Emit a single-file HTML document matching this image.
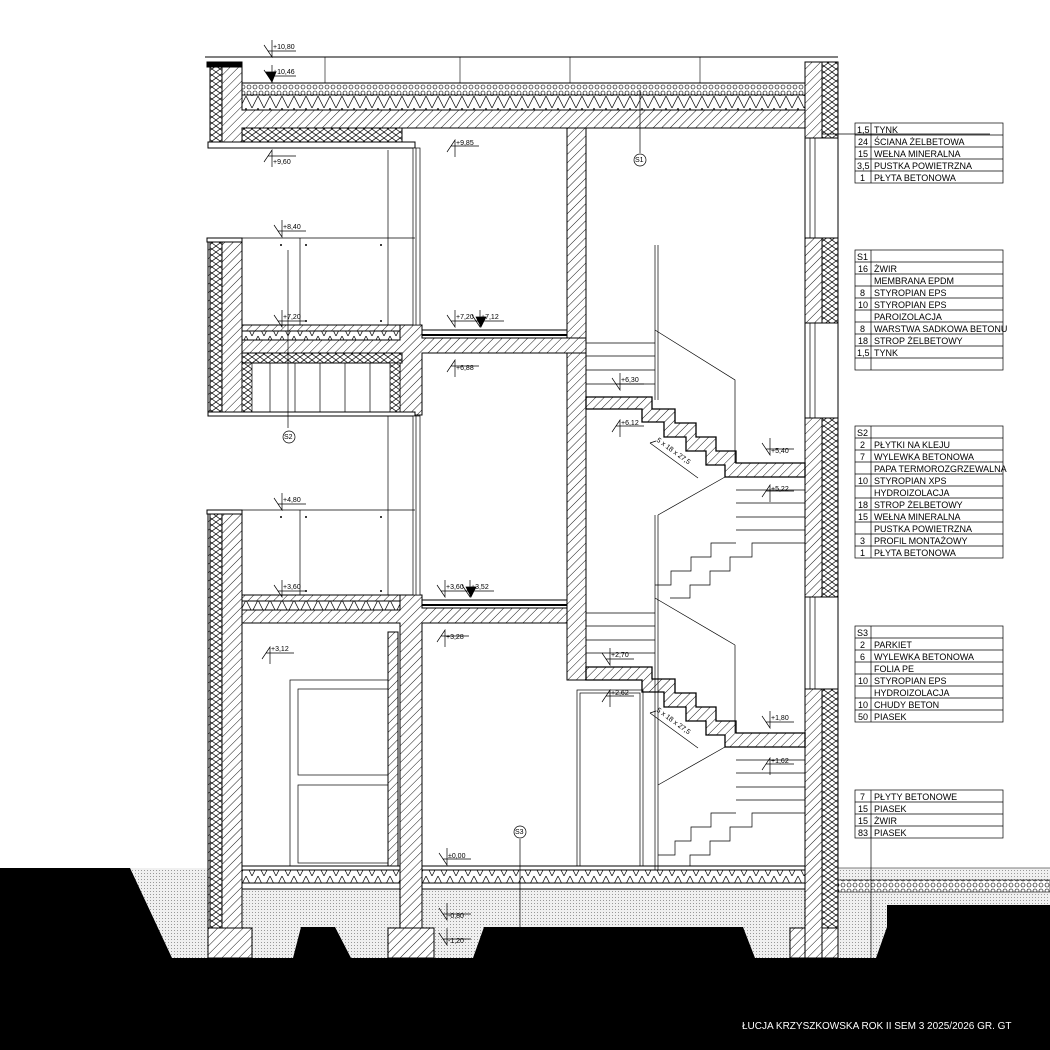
<!DOCTYPE html>
<html><head><meta charset="utf-8"><style>
html,body{margin:0;padding:0;background:#fff}
svg{display:block}
text{font-family:"Liberation Sans",sans-serif;font-size:7px;fill:#000}
.t text{font-size:9px}
</style></head><body>
<svg width="1050" height="1050" viewBox="0 0 1050 1050" xmlns="http://www.w3.org/2000/svg">
<defs>
<pattern id="h" width="6" height="6" patternUnits="userSpaceOnUse" patternTransform="rotate(45)"><rect width="6" height="6" fill="#fff"/><line x1="0" y1="0" x2="0" y2="6" stroke="#000" stroke-width="0.9"/></pattern>
<pattern id="w" width="8" height="6" patternUnits="userSpaceOnUse"><rect width="8" height="6" fill="#fff"/><path d="M0,0 L8,6 M8,0 L0,6" stroke="#000" stroke-width="0.7"/></pattern>
<pattern id="z" width="12" height="12" patternUnits="userSpaceOnUse"><rect width="12" height="12" fill="#fff"/><path d="M0,12 L6,0 L12,12" stroke="#000" stroke-width="0.7" fill="none"/></pattern>
<pattern id="g" width="6" height="6" patternUnits="userSpaceOnUse"><rect width="6" height="6" fill="#fff"/><circle cx="3" cy="3" r="2" stroke="#000" stroke-width="0.6" fill="none"/></pattern>
<pattern id="d" width="3" height="3" patternUnits="userSpaceOnUse"><rect width="3" height="3" fill="#f0f0f0"/><rect width="1" height="1" fill="#999"/></pattern>
</defs>
<g stroke="#000" stroke-width="1" fill="none">
<rect x="0" y="868" width="1050" height="182" fill="#000" stroke="none"/>
<polygon points="130,868 1050,868 1050,905 887,905 887,927 876,958 755,958 743,927 484,927 473,958 351,958 335,927 301,927 293,958 172,958" fill="url(#d)" stroke="none"/>
<rect x="838" y="880" width="212" height="12" fill="url(#g)" stroke-width="0.6"/>
<line x1="838" y1="868" x2="1050" y2="868" stroke-width="0.6"/>
<rect x="242" y="866" width="563" height="4" fill="#fff"/>
<rect x="242" y="870" width="563" height="13" fill="url(#z)"/>
<rect x="242" y="883" width="563" height="6" fill="#fff"/>
<rect x="208" y="928" width="44" height="30" fill="url(#h)"/>
<rect x="388" y="928" width="46" height="30" fill="url(#h)"/>
<rect x="790" y="928" width="48" height="30" fill="url(#h)"/>
<line x1="205" y1="57" x2="838" y2="57"/>
<line x1="325" y1="57" x2="325" y2="83" stroke-width="0.6"/><line x1="460" y1="57" x2="460" y2="83" stroke-width="0.6"/><line x1="570" y1="57" x2="570" y2="83" stroke-width="0.6"/><line x1="700" y1="57" x2="700" y2="83" stroke-width="0.6"/>
<rect x="242" y="83" width="563" height="12" fill="url(#g)"/>
<rect x="242" y="95" width="563" height="15" fill="url(#z)"/>
<polygon points="222,62 242,62 242,110 838,110 838,128 242,128 242,148 222,148" fill="url(#h)"/>
<rect x="210" y="62" width="12" height="86" fill="url(#w)"/>
<rect x="207" y="62" width="35" height="5" fill="#000"/>
<rect x="242" y="128" width="160" height="14" fill="url(#w)"/>
<rect x="208" y="142" width="207" height="6" fill="#fff"/>
<rect x="805" y="62" width="17" height="896" fill="url(#h)"/>
<rect x="822" y="62" width="16" height="866" fill="url(#w)"/>
<g fill="#fff"><rect x="805" y="138" width="33" height="100"/><rect x="805" y="323" width="33" height="95"/><rect x="805" y="597" width="33" height="92"/></g>
<g stroke-width="0.7"><line x1="810" y1="138" x2="810" y2="238"/><line x1="815" y1="138" x2="815" y2="238"/><line x1="810" y1="323" x2="810" y2="418"/><line x1="815" y1="323" x2="815" y2="418"/><line x1="810" y1="597" x2="810" y2="689"/><line x1="815" y1="597" x2="815" y2="689"/></g>
<rect x="567" y="128" width="19" height="552" fill="url(#h)"/>
<polygon points="586,397 652,397 652,409 675,409 675,423 696,423 696,437 716,437 716,451 736,451 736,463 805,463 805,477 725,477 725,465 706,465 706,451 686,451 686,437 664,437 664,422 642,422 642,409 586,409" fill="url(#h)" stroke-width="1.3"/>
<polygon points="586,667 652,667 652,679 675,679 675,693 696,693 696,707 716,707 716,721 736,721 736,733 805,733 805,747 725,747 725,735 706,735 706,721 686,721 686,707 664,707 664,692 642,692 642,680 586,680" fill="url(#h)" stroke-width="1.3"/>
<g stroke-width="0.7">
<line x1="586" y1="343" x2="655" y2="343"/><line x1="586" y1="356" x2="655" y2="356"/><line x1="586" y1="370" x2="655" y2="370"/><line x1="586" y1="384" x2="655" y2="384"/>
<line x1="655" y1="245" x2="655" y2="400"/><line x1="658" y1="245" x2="658" y2="400"/>
<polyline points="655,330 735,380 735,463"/>
<line x1="736" y1="490" x2="805" y2="490"/><line x1="736" y1="503" x2="805" y2="503"/><line x1="736" y1="517" x2="805" y2="517"/><line x1="736" y1="530" x2="805" y2="530"/>
<polyline points="736,543 711,543 711,557 691,557 691,571 671,571 671,585 655,585"/>
<polyline points="805,543 752,543 752,557 730,557 730,571 710,571 710,585 690,585 690,598 670,598"/>
<line x1="655" y1="515" x2="655" y2="870"/><line x1="658" y1="515" x2="658" y2="870"/>
<line x1="658" y1="515" x2="725" y2="477"/>
<line x1="586" y1="613" x2="655" y2="613"/><line x1="586" y1="626" x2="655" y2="626"/><line x1="586" y1="640" x2="655" y2="640"/><line x1="586" y1="653" x2="655" y2="653"/>
<line x1="655" y1="598" x2="735" y2="645"/><line x1="735" y1="645" x2="735" y2="733"/>
<line x1="736" y1="760" x2="805" y2="760"/><line x1="736" y1="773" x2="805" y2="773"/><line x1="736" y1="787" x2="805" y2="787"/><line x1="736" y1="800" x2="805" y2="800"/>
<polyline points="736,813 711,813 711,827 691,827 691,841 675,841 675,855 658,855"/>
<polyline points="805,813 752,813 752,827 730,827 730,841 710,841 710,855 690,855 690,866"/>
<line x1="658" y1="785" x2="725" y2="747"/>
<rect x="577" y="690" width="66" height="176"/><rect x="580" y="693" width="60" height="173"/>
</g>
<rect x="208" y="238" width="34" height="177" fill="url(#h)"/>
<rect x="210" y="242" width="12" height="173" fill="url(#w)"/>
<rect x="207" y="238" width="35" height="4" fill="#fff"/>
<rect x="242" y="325" width="158" height="6" fill="url(#h)"/>
<rect x="242" y="331" width="158" height="9" fill="url(#z)"/>
<polygon points="242,340 400,340 400,325 422,325 422,338 586,338 586,353 422,353 422,415 400,415 400,353 242,353" fill="url(#h)"/>
<rect x="242" y="353" width="160" height="10" fill="url(#w)"/>
<g stroke-width="0.7"><line x1="270" y1="363" x2="270" y2="412"/><line x1="295" y1="363" x2="295" y2="412"/><line x1="320" y1="363" x2="320" y2="412"/><line x1="345" y1="363" x2="345" y2="412"/><line x1="370" y1="363" x2="370" y2="412"/><rect x="242" y="363" width="10" height="50" fill="url(#w)"/><rect x="390" y="363" width="10" height="50" fill="url(#w)"/></g>
<rect x="208" y="412" width="207" height="4" fill="#fff"/>
<rect x="422" y="330" width="145" height="5" fill="#fff"/><line x1="422" y1="335" x2="567" y2="335" stroke-width="2"/>
<rect x="208" y="510" width="34" height="418" fill="url(#h)"/>
<rect x="210" y="514" width="12" height="414" fill="url(#w)"/>
<rect x="207" y="510" width="35" height="4" fill="#fff"/>
<rect x="242" y="595" width="158" height="6" fill="url(#h)"/>
<rect x="242" y="601" width="158" height="9" fill="url(#z)"/>
<polygon points="242,610 400,610 400,595 422,595 422,608 567,608 567,623 422,623 422,928 400,928 400,623 242,623" fill="url(#h)"/>
<rect x="388" y="632" width="10" height="234" fill="url(#h)"/>
<rect x="422" y="600" width="145" height="5" fill="#fff"/><line x1="422" y1="605" x2="567" y2="605" stroke-width="2"/>
<g stroke-width="0.7">
<rect x="413" y="148" width="7" height="177" fill="#fff"/><line x1="416" y1="148" x2="416" y2="325"/>
<rect x="413" y="416" width="7" height="179" fill="#fff"/><line x1="416" y1="416" x2="416" y2="595"/>
<line x1="242" y1="238" x2="415" y2="238"/><line x1="300" y1="238" x2="300" y2="325"/><line x1="388" y1="150" x2="388" y2="325"/>
<line x1="242" y1="510" x2="415" y2="510"/><line x1="300" y1="510" x2="300" y2="595"/><line x1="388" y1="416" x2="388" y2="595"/>
<line x1="288" y1="250" x2="288" y2="428"/><circle cx="289" cy="437" r="6" fill="#fff"/>
<line x1="640" y1="90" x2="640" y2="153"/><circle cx="640" cy="160" r="6" fill="#fff"/>
<line x1="520" y1="839" x2="520" y2="958"/><circle cx="520" cy="832" r="6" fill="#fff"/>
<line x1="871" y1="826" x2="871" y2="958"/>
<line x1="822" y1="134" x2="990" y2="134"/>
<rect x="290" y="680" width="98" height="186"/><rect x="298" y="689" width="90" height="86"/><rect x="298" y="785" width="90" height="78"/>
</g>
<g fill="#000" stroke="none"><circle cx="281" cy="245" r="1"/><circle cx="306" cy="245" r="1"/><circle cx="381" cy="245" r="1"/><circle cx="306" cy="321" r="1"/><circle cx="381" cy="321" r="1"/><circle cx="281" cy="517" r="1"/><circle cx="306" cy="517" r="1"/><circle cx="381" cy="517" r="1"/><circle cx="306" cy="591" r="1"/><circle cx="381" cy="591" r="1"/></g>
</g>
<g fill="#000">
<text x="515" y="834" font-size="5">S3</text><text x="635" y="162" font-size="5">S1</text><text x="284" y="439" font-size="5">S2</text>
</g>
<g stroke="#000" stroke-width="0.7" fill="none">
<path d="M264,45 L272,57 L272,40 M268,51 H296"/>
<path d="M264,70 L272,82 L272,65 M268,76 H296" /><polygon points="266,72 276,72 272,82" fill="#000"/>
<path d="M264,162 L272,150 L272,167 M268,156 H296"/>
<path d="M447,152 L455,140 L455,157 M451,146 H479"/>
<path d="M274,225 L282,237 L282,220 M278,231 H306"/>
<path d="M274,315 L282,327 L282,310 M278,321 H306"/>
<path d="M447,315 L455,327 L455,310 M451,321 H479"/>
<path d="M472,315 L480,327 L480,310 M476,321 H504"/><polygon points="476,317 486,317 481,327" fill="#000"/>
<path d="M447,372 L455,360 L455,377 M451,366 H479"/>
<path d="M612,378 L620,390 L620,373 M616,384 H644"/>
<path d="M612,432 L620,420 L620,437 M616,426 H644"/>
<path d="M762,443 L770,455 L770,438 M766,449 H794"/>
<path d="M762,497 L770,485 L770,502 M766,491 H794"/>
<path d="M274,498 L282,510 L282,493 M278,504 H306"/>
<path d="M274,585 L282,597 L282,580 M278,591 H306"/>
<path d="M437,585 L445,597 L445,580 M441,591 H469"/>
<path d="M462,585 L470,597 L470,580 M466,591 H494"/><polygon points="466,587 476,587 471,597" fill="#000"/>
<path d="M437,642 L445,630 L445,647 M441,636 H469"/>
<path d="M262,659 L270,647 L270,664 M266,653 H294"/>
<path d="M602,653 L610,665 L610,648 M606,659 H634"/>
<path d="M602,702 L610,690 L610,707 M606,696 H634"/>
<path d="M762,716 L770,728 L770,711 M766,722 H794"/>
<path d="M762,770 L770,758 L770,775 M766,764 H794"/>
<path d="M439,853 L447,865 L447,848 M443,859 H471"/>
<path d="M439,908 L447,920 L447,903 M443,914 H471"/>
<path d="M439,933 L447,945 L447,928 M443,939 H471"/>
<path d="M650,443 L698,478 M650,443 L656,441"/>
<path d="M650,713 L698,748 M650,713 L656,711"/>
</g>
<g>
<text x="273" y="49">+10,80</text><text x="273" y="74">+10,46</text><text x="273" y="164">+9,60</text><text x="456" y="145">+9,85</text>
<text x="283" y="229">+8,40</text><text x="283" y="319">+7,20</text><text x="456" y="319">+7,20</text><text x="481" y="319">+7,12</text>
<text x="456" y="370">+6,88</text><text x="621" y="382">+6,30</text><text x="621" y="425">+6,12</text><text x="771" y="453">+5,40</text><text x="771" y="491">+5,22</text>
<text x="283" y="502">+4,80</text><text x="283" y="589">+3,60</text><text x="446" y="589">+3,60</text><text x="471" y="589">+3,52</text><text x="446" y="639">+3,28</text>
<text x="271" y="651">+3,12</text><text x="611" y="657">+2,70</text><text x="611" y="695">+2,62</text><text x="771" y="720">+1,80</text><text x="771" y="763">+1,62</text>
<text x="448" y="858">±0,00</text><text x="448" y="918">-0,80</text><text x="448" y="943">-1,20</text>
<text x="656" y="441" font-size="9" transform="rotate(36 656 441)">5 x 18 x 27,5</text>
<text x="656" y="711" font-size="9" transform="rotate(36 656 711)">5 x 18 x 27,5</text>
</g>
<g class="t" stroke="#000" stroke-width="0.7">
<g fill="none">
<rect x="855" y="123" width="148" height="60"/><line x1="871" y1="123" x2="871" y2="183"/>
<line x1="855" y1="135" x2="1003" y2="135"/><line x1="855" y1="147" x2="1003" y2="147"/><line x1="855" y1="159" x2="1003" y2="159"/><line x1="855" y1="171" x2="1003" y2="171"/>
<rect x="855" y="250" width="148" height="120"/><line x1="871" y1="250" x2="871" y2="370"/>
<line x1="855" y1="262" x2="1003" y2="262"/><line x1="855" y1="274" x2="1003" y2="274"/><line x1="855" y1="286" x2="1003" y2="286"/><line x1="855" y1="298" x2="1003" y2="298"/><line x1="855" y1="310" x2="1003" y2="310"/><line x1="855" y1="322" x2="1003" y2="322"/><line x1="855" y1="334" x2="1003" y2="334"/><line x1="855" y1="346" x2="1003" y2="346"/><line x1="855" y1="358" x2="1003" y2="358"/>
<rect x="855" y="426" width="148" height="132"/><line x1="871" y1="426" x2="871" y2="558"/>
<line x1="855" y1="438" x2="1003" y2="438"/><line x1="855" y1="450" x2="1003" y2="450"/><line x1="855" y1="462" x2="1003" y2="462"/><line x1="855" y1="474" x2="1003" y2="474"/><line x1="855" y1="486" x2="1003" y2="486"/><line x1="855" y1="498" x2="1003" y2="498"/><line x1="855" y1="510" x2="1003" y2="510"/><line x1="855" y1="522" x2="1003" y2="522"/><line x1="855" y1="534" x2="1003" y2="534"/><line x1="855" y1="546" x2="1003" y2="546"/>
<rect x="855" y="626" width="148" height="96"/><line x1="871" y1="626" x2="871" y2="722"/>
<line x1="855" y1="638" x2="1003" y2="638"/><line x1="855" y1="650" x2="1003" y2="650"/><line x1="855" y1="662" x2="1003" y2="662"/><line x1="855" y1="674" x2="1003" y2="674"/><line x1="855" y1="686" x2="1003" y2="686"/><line x1="855" y1="698" x2="1003" y2="698"/><line x1="855" y1="710" x2="1003" y2="710"/>
<rect x="855" y="790" width="148" height="48"/><line x1="871" y1="790" x2="871" y2="838"/>
<line x1="855" y1="802" x2="1003" y2="802"/><line x1="855" y1="814" x2="1003" y2="814"/><line x1="855" y1="826" x2="1003" y2="826"/>
</g>
<g stroke="none" fill="#000">
<text x="857" y="133">1,5</text><text x="874" y="133">TYNK</text>
<text x="858" y="145">24</text><text x="874" y="145">ŚCIANA ŻELBETOWA</text>
<text x="858" y="157">15</text><text x="874" y="157">WEŁNA MINERALNA</text>
<text x="857" y="169">3,5</text><text x="874" y="169">PUSTKA POWIETRZNA</text>
<text x="860" y="181">1</text><text x="874" y="181">PŁYTA BETONOWA</text>
<text x="857" y="260">S1</text>
<text x="858" y="272">16</text><text x="874" y="272">ŻWIR</text>
<text x="874" y="284">MEMBRANA EPDM</text>
<text x="860" y="296">8</text><text x="874" y="296">STYROPIAN EPS</text>
<text x="858" y="308">10</text><text x="874" y="308">STYROPIAN EPS</text>
<text x="874" y="320">PAROIZOLACJA</text>
<text x="860" y="332">8</text><text x="874" y="332">WARSTWA SADKOWA BETONU</text>
<text x="858" y="344">18</text><text x="874" y="344">STROP ŻELBETOWY</text>
<text x="857" y="356">1,5</text><text x="874" y="356">TYNK</text>
<text x="857" y="436">S2</text>
<text x="860" y="448">2</text><text x="874" y="448">PŁYTKI NA KLEJU</text>
<text x="860" y="460">7</text><text x="874" y="460">WYLEWKA BETONOWA</text>
<text x="874" y="472">PAPA TERMOROZGRZEWALNA</text>
<text x="858" y="484">10</text><text x="874" y="484">STYROPIAN XPS</text>
<text x="874" y="496">HYDROIZOLACJA</text>
<text x="858" y="508">18</text><text x="874" y="508">STROP ŻELBETOWY</text>
<text x="858" y="520">15</text><text x="874" y="520">WEŁNA MINERALNA</text>
<text x="874" y="532">PUSTKA POWIETRZNA</text>
<text x="860" y="544">3</text><text x="874" y="544">PROFIL MONTAŻOWY</text>
<text x="860" y="556">1</text><text x="874" y="556">PŁYTA BETONOWA</text>
<text x="857" y="636">S3</text>
<text x="860" y="648">2</text><text x="874" y="648">PARKIET</text>
<text x="860" y="660">6</text><text x="874" y="660">WYLEWKA BETONOWA</text>
<text x="874" y="672">FOLIA PE</text>
<text x="858" y="684">10</text><text x="874" y="684">STYROPIAN EPS</text>
<text x="874" y="696">HYDROIZOLACJA</text>
<text x="858" y="708">10</text><text x="874" y="708">CHUDY BETON</text>
<text x="858" y="720">50</text><text x="874" y="720">PIASEK</text>
<text x="860" y="800">7</text><text x="874" y="800">PŁYTY BETONOWE</text>
<text x="858" y="812">15</text><text x="874" y="812">PIASEK</text>
<text x="858" y="824">15</text><text x="874" y="824">ŻWIR</text>
<text x="858" y="836">83</text><text x="874" y="836">PIASEK</text>
</g>
</g>
<text x="742" y="1029" style="font-size:10px;fill:#fff">ŁUCJA KRZYSZKOWSKA ROK II SEM 3 2025/2026 GR. GT</text>
</svg>
</body></html>
